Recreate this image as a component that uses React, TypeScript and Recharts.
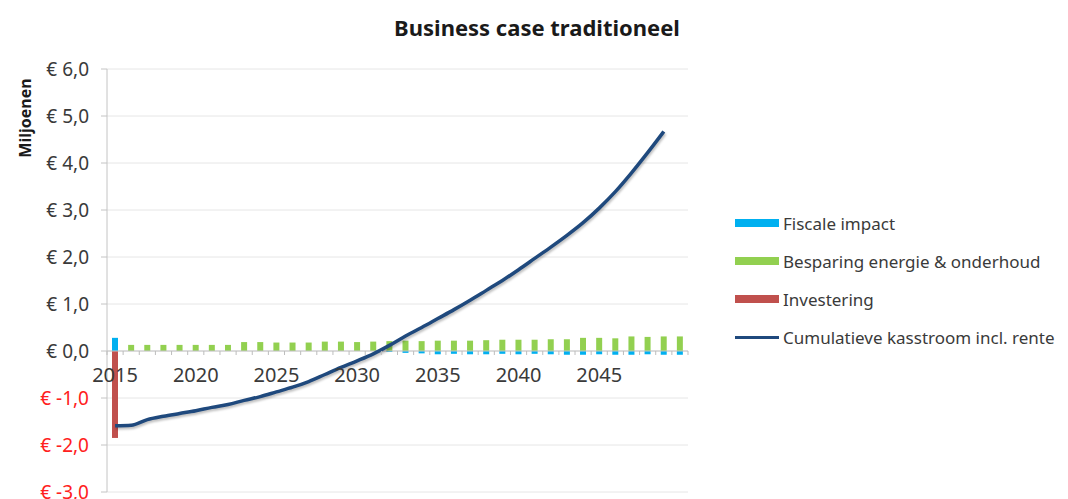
import React from "react";
import { ComposedChart, Bar, Line, XAxis, YAxis, CartesianGrid, ReferenceLine, ReferenceDot } from "recharts";

// categorieen (jaren)
const years = [
  2015, 2016, 2017, 2018, 2019, 2020, 2021, 2022, 2023, 2024, 2025, 2026,
  2027, 2028, 2029, 2030, 2031, 2032, 2033, 2034, 2035, 2036, 2037, 2038,
  2039, 2040, 2041, 2042, 2043, 2044, 2045, 2046, 2047, 2048, 2049, 2050,
];

// bedragen in miljoenen euro
const fiscaleImpact = [
  0.28, 0, 0, 0, 0, 0, 0, 0, 0, 0, 0, 0,
  0, 0, 0, 0, 0, -0.02, -0.04, -0.05, -0.07, -0.06, -0.07, -0.07,
  -0.06, -0.07, -0.06, -0.07, -0.08, -0.08, -0.07, -0.08, -0.08, -0.07, -0.08, -0.08,
];
const besparing = [
  0, 0.13, 0.13, 0.13, 0.13, 0.13, 0.13, 0.13, 0.19, 0.19, 0.18, 0.18,
  0.18, 0.2, 0.2, 0.19, 0.2, 0.21, 0.22, 0.21, 0.22, 0.22, 0.22, 0.23,
  0.24, 0.24, 0.24, 0.25, 0.25, 0.28, 0.28, 0.27, 0.31, 0.3, 0.31, 0.31,
];
const investering = [
  -1.85, 0, 0, 0, 0, 0, 0, 0, 0, 0, 0, 0,
  0, 0, 0, 0, 0, 0, 0, 0, 0, 0, 0, 0,
  0, 0, 0, 0, 0, 0, 0, 0, 0, 0, 0, 0,
];
const kasstroom = [
  -1.59, -1.58, -1.46, -1.39, -1.33, -1.27, -1.2, -1.14, -1.05, -0.97, -0.87, -0.77,
  -0.65, -0.5, -0.35, -0.21, -0.06, 0.12, 0.32, 0.5, 0.69, 0.88, 1.08, 1.29,
  1.5, 1.73, 1.97, 2.21, 2.46, 2.73, 3.04, 3.39, 3.79, 4.22, 4.67, null,
];

const yTicks = [-3, -2, -1, 0, 1, 2, 3, 4, 5, 6];
const xLabelYears = [2015, 2020, 2025, 2030, 2035, 2040, 2045];

const legendItems = [
  { name: "Fiscale impact", color: "#00B0F0", type: "bar" },
  { name: "Besparing energie & onderhoud", color: "#92D050", type: "bar" },
  { name: "Investering", color: "#C0504D", type: "bar" },
  { name: "Cumulatieve kasstroom incl. rente", color: "#1F497D", type: "line" },
];

const data = years.map((year, i) => ({
  year,
  fiscaal: fiscaleImpact[i],
  besparing: besparing[i],
  investering: investering[i],
  kasstroom: kasstroom[i],
}));

const PLOT_LEFT = 107;
const PLOT_RIGHT = 688;
const BAND = (PLOT_RIGHT - PLOT_LEFT) / years.length;

const fmt = (v: number) => `€ ${v.toFixed(1).replace(".", ",")}`;

const YTick = ({ x, y, payload }: any) => (
  <text
    x={x}
    y={y}
    dy="0.35em"
    textAnchor="end"
    fontSize={19}
    fill={payload.value < 0 ? "#FF2020" : "#3a3a3a"}
  >
    {fmt(payload.value)}
  </text>
);

const MinorTick = (last: boolean) => ({ cx, cy }: any) => {
  if (cx == null || cy == null) return null;
  const tx = last ? cx + BAND / 2 : cx - BAND / 2;
  return <line x1={tx} x2={tx} y1={cy} y2={cy + 4} stroke="#bdbdbd" strokeWidth={1} />;
};

export default function App() {
  return (
    <div
      style={{
        position: "absolute",
        left: 0,
        top: 0,
        width: 1068,
        height: 499,
        background: "#fff",
        fontFamily: '"Noto Sans", sans-serif',
        color: "#3a3a3a",
      }}
    >
      <div
        style={{
          position: "absolute",
          left: 337,
          width: 400,
          top: 12,
          textAlign: "center",
          fontWeight: 700,
          fontSize: 22,
          lineHeight: "30px",
          color: "#1a1a1a",
        }}
      >
        Business case traditioneel
      </div>
      <div
        style={{
          position: "absolute",
          left: 25,
          top: 118,
          transform: "translate(-50%, -50%) rotate(-90deg)",
          fontWeight: 700,
          fontSize: 16,
          whiteSpace: "nowrap",
          color: "#1a1a1a",
        }}
      >
        Miljoenen
      </div>

      <ComposedChart
        width={1068}
        height={499}
        data={data}
        stackOffset="sign"
        margin={{ top: 69, right: 1068 - PLOT_RIGHT, bottom: 7, left: 7 }}
      >
        <CartesianGrid vertical={false} stroke="#e6e6e6" />
        <XAxis dataKey="year" hide />
        <YAxis
          width={100}
          domain={[-3, 6]}
          ticks={yTicks}
          interval={0}
          stroke="#c4c4c4"
          tickSize={6}
          tickMargin={12}
          tick={<YTick />}
        />
        <ReferenceLine y={0} stroke="#c4c4c4" />
        {years.map((y) => (
          <ReferenceDot key={`t-${y}`} x={y} y={0} r={0} shape={MinorTick(false)} />
        ))}
        <ReferenceDot x={years[years.length - 1]} y={0} r={0} shape={MinorTick(true)} />
        {xLabelYears.map((y) => (
          <ReferenceDot
            key={`l-${y}`}
            x={y}
            y={0}
            r={0}
            shape={() => null}
            label={{ value: String(y), position: "bottom", offset: 17, fontSize: 20, fill: "#3a3a3a" }}
          />
        ))}
        <Bar dataKey="fiscaal" stackId="a" fill="#00B0F0" barSize={6} isAnimationActive={false} />
        <Bar dataKey="besparing" stackId="a" fill="#92D050" barSize={6} isAnimationActive={false} />
        <Bar dataKey="investering" stackId="a" fill="#C0504D" barSize={6} isAnimationActive={false} />
        <Line
          dataKey="kasstroom"
          type="monotone"
          stroke="#1F497D"
          strokeWidth={3.5}
          dot={false}
          activeDot={false}
          isAnimationActive={false}
          style={{ filter: "drop-shadow(1px 2px 1px rgba(0,0,0,0.25))" }}
        />
      </ComposedChart>

      <div style={{ position: "absolute", left: 735, top: 204, fontSize: 17 }}>
        {legendItems.map((item) => (
          <div key={item.name} style={{ display: "flex", alignItems: "center", height: 38 }}>
            <div
              style={{
                width: 44,
                height: item.type === "bar" ? 8 : 3,
                background: item.color,
                marginRight: 4,
              }}
            />
            <span style={{ whiteSpace: "nowrap" }}>{item.name}</span>
          </div>
        ))}
      </div>
    </div>
  );
}
